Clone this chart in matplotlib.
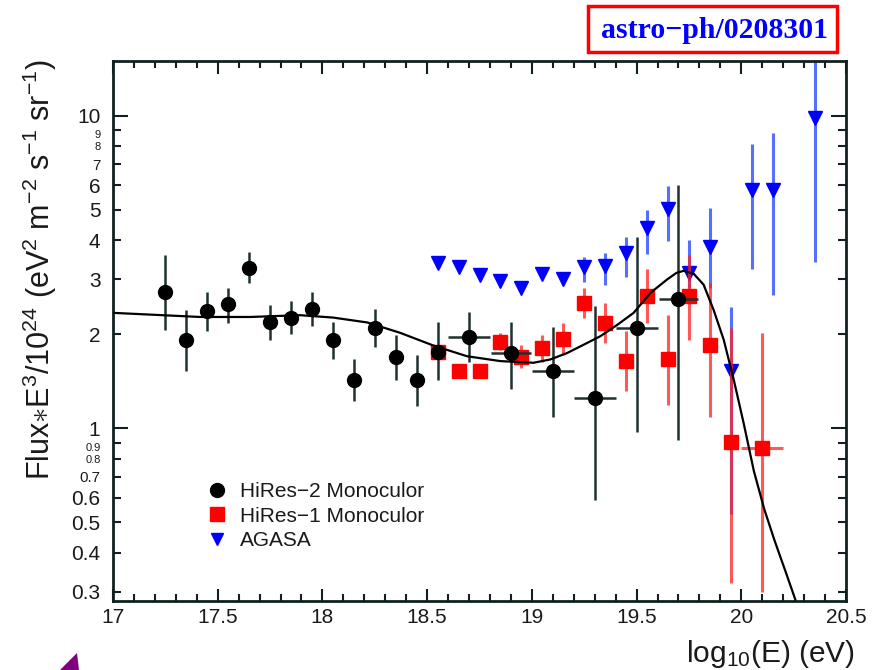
import numpy as np
import matplotlib
matplotlib.use("Agg")
import matplotlib.pyplot as plt
from matplotlib.ticker import FixedLocator, FixedFormatter, MultipleLocator
from matplotlib.patches import Polygon, Rectangle
from matplotlib.lines import Line2D

plt.rcParams['font.family'] = ['Liberation Sans', 'DejaVu Sans']
plt.rcParams['mathtext.fontset'] = 'custom'
plt.rcParams['mathtext.rm'] = 'Liberation Sans'
plt.rcParams['mathtext.it'] = 'Liberation Sans:italic'

# ---------------- data ----------------
# HiRes-2 Monocular (black circles)
hr2_x = [17.25, 17.35, 17.45, 17.55, 17.65, 17.75, 17.85, 17.95, 18.05, 18.15,
         18.25, 18.35, 18.45, 18.55, 18.70, 18.90, 19.10, 19.30, 19.50, 19.70]
hr2_y = [2.73, 1.92, 2.38, 2.49, 3.26, 2.18, 2.26, 2.41, 1.91, 1.43,
         2.10, 1.69, 1.43, 1.76, 1.96, 1.74, 1.52, 1.25, 2.10, 2.60]
hr2_up = [3.58, 2.39, 2.72, 2.80, 3.67, 2.48, 2.55, 2.72, 2.19, 1.67,
          2.41, 1.99, 1.71, 2.18, 2.35, 2.19, 2.11, 2.46, 4.08, 6.00]
hr2_lo = [2.06, 1.53, 2.04, 2.17, 2.91, 1.92, 2.00, 2.12, 1.67, 1.22,
          1.82, 1.43, 1.18, 1.43, 1.63, 1.34, 1.09, 0.59, 0.97, 0.915]
hr2_xerr = [0, 0, 0, 0, 0, 0, 0, 0, 0, 0,
            0, 0, 0, 0, 0.1, 0.095, 0.1, 0.1, 0.1, 0.095]

# HiRes-1 Monocular (red squares)
hr1_x = [18.55, 18.65, 18.75, 18.85, 18.95, 19.05, 19.15, 19.25, 19.35, 19.45,
         19.55, 19.65, 19.75, 19.85, 19.95, 20.10]
hr1_y = [1.75, 1.52, 1.52, 1.89, 1.69, 1.80, 1.93, 2.52, 2.17, 1.64,
         2.64, 1.66, 2.64, 1.84, 0.904, 0.867]
hr1_up = [1.82, 1.58, 1.58, 2.02, 1.85, 1.99, 2.17, 2.80, 2.51, 2.04,
          3.23, 2.30, 3.58, 2.91, 2.09, 2.01]
hr1_lo = [1.68, 1.46, 1.46, 1.78, 1.56, 1.63, 1.71, 2.25, 1.87, 1.32,
          2.17, 1.19, 1.91, 1.09, 0.32, 0.30]
hr1_xerr = [0, 0, 0, 0, 0, 0, 0, 0, 0, 0,
            0, 0, 0, 0, 0, 0.1]

# AGASA (blue down triangles)
ag_x = [18.55, 18.65, 18.75, 18.85, 18.95, 19.05, 19.15, 19.25, 19.35, 19.45,
        19.55, 19.65, 19.75, 19.85, 19.95, 20.05, 20.15, 20.35]
ag_y = [3.39, 3.29, 3.09, 2.96, 2.80, 3.11, 3.00, 3.27, 3.31, 3.65,
        4.37, 5.02, 3.13, 3.81, 1.53, 5.79, 5.79, 9.83]
ag_up = [3.39, 3.29, 3.09, 2.96, 2.80, 3.11, 3.12, 3.53, 3.63, 4.08,
         5.01, 5.94, 4.00, 5.06, 2.45, 8.13, 8.80, 20.0]
ag_lo = [3.39, 3.29, 3.09, 2.96, 2.80, 3.11, 2.88, 2.94, 2.87, 3.05,
         3.61, 3.98, 2.80, 2.80, 0.53, 3.23, 2.67, 3.41]

# fit curve
fit_x = [17.0, 17.416, 17.655, 17.893, 18.051, 18.214, 18.371, 18.529, 18.690,
         18.849, 19.008, 19.088, 19.168, 19.247, 19.327, 19.407, 19.486, 19.566,
         19.645, 19.690, 19.725, 19.773, 19.820, 19.868, 19.916, 19.964, 20.011,
         20.060, 20.110, 20.160, 20.210, 20.258]
fit_y = [2.34, 2.27, 2.27, 2.30, 2.26, 2.18, 2.02, 1.84, 1.70,
         1.64, 1.62, 1.66, 1.74, 1.85, 1.97, 2.14, 2.34, 2.71,
         2.99, 3.14, 3.19, 3.12, 2.88, 2.39, 1.92, 1.43, 1.04,
         0.73, 0.55, 0.435, 0.35, 0.283]

labels = ["HiRes\u22122 Monoculor", "HiRes\u22121 Monoculor", "AGASA"]
ytick_vals = [0.3, 0.4, 0.5, 0.6, 0.7, 0.8, 0.9, 1, 2, 3, 4, 5, 6, 7, 8, 9, 10]
ytick_labels = ["0.3", "0.4", "0.5", "0.6", "0.7", "0.8", "0.9", "1",
                "2", "3", "4", "5", "6", "7", "8", "9", "10"]
xtick_vals = [17, 17.5, 18, 18.5, 19, 19.5, 20, 20.5]
xtick_labels = ["17", "17.5", "18", "18.5", "19", "19.5", "20", "20.5"]

# ---------------- figure ----------------
W, H = 874, 670
fig = plt.figure(figsize=(W / 100, H / 100), dpi=100)
ax = fig.add_axes([113 / W, 1 - 601 / H, (846 - 113) / W, (601 - 60.7) / H])
ax.set_yscale('log')
ax.set_xlim(17, 20.5)
ax.set_ylim(0.28, 15.0)

black_bar = '#1e3030'
red = '#ff0000'
blue = '#0000ff'
txt = '#1a1a1a'


def yerr(y, up, lo):
    y = np.array(y); up = np.array(up); lo = np.array(lo)
    return [y - lo, up - y]


# AGASA
ax.errorbar(ag_x, ag_y, yerr=yerr(ag_y, ag_up, ag_lo), fmt='none',
            ecolor='#2a4cff', elinewidth=2.2, alpha=0.8, zorder=2)
ax.plot(ag_x, ag_y, linestyle='none', marker='v', color=blue,
        markersize=10, zorder=3)

# HiRes-1
ax.errorbar(hr1_x, hr1_y, yerr=yerr(hr1_y, hr1_up, hr1_lo), xerr=hr1_xerr,
            fmt='none', ecolor='#ff2020', elinewidth=2.2, alpha=0.75, zorder=4)
ax.plot(hr1_x, hr1_y, linestyle='none', marker='s', color=red,
        markersize=10, zorder=5)

# HiRes-2
ax.errorbar(hr2_x, hr2_y, yerr=yerr(hr2_y, hr2_up, hr2_lo), xerr=hr2_xerr,
            fmt='none', ecolor=black_bar, elinewidth=1.8, zorder=6)
ax.plot(hr2_x, hr2_y, linestyle='none', marker='o', color='black',
        markersize=10, zorder=7)

# fit curve
ax.plot(fit_x, fit_y, color='black', linewidth=1.6, zorder=8)

# ---------------- axes styling ----------------
for s in ax.spines.values():
    s.set_linewidth(2.0)
    s.set_color('#102020')

ax.xaxis.set_minor_locator(MultipleLocator(0.1))
ax.set_xticks(xtick_vals)
ax.set_xticklabels(xtick_labels)

ax.yaxis.set_major_locator(FixedLocator([1, 10]))
ax.yaxis.set_major_formatter(FixedFormatter(["1", "10"]))
minor_vals = [v for v in ytick_vals if v not in (1, 10)]
minor_labs = [l for v, l in zip(ytick_vals, ytick_labels) if v not in (1, 10)]
ax.yaxis.set_minor_locator(FixedLocator(minor_vals))
ax.yaxis.set_minor_formatter(FixedFormatter(minor_labs))

ax.tick_params(axis='both', which='both', direction='in', top=True, right=True,
               colors='#102020', labelcolor=txt, width=1.5)
ax.tick_params(axis='x', which='major', length=9, labelsize=15, pad=5)
ax.tick_params(axis='x', which='minor', length=5)
ax.tick_params(axis='y', which='major', length=11, labelsize=15, pad=9)
ax.tick_params(axis='y', which='minor', length=6, labelsize=15, pad=9)

# crowded labels near 1 and 10 are squeezed, as in the original
small = {"9": 8, "8": 8, "7": 11, "0.9": 8, "0.8": 8, "0.7": 11}
for t in ax.get_yticklabels(minor=True):
    s = t.get_text()
    if s in small:
        t.set_fontsize(small[s])
    if s in ("9", "0.9"):
        t.set_verticalalignment('top')

# ---------------- labels ----------------
fig.text(40 / W, 1 - 270 / H,
         r'Flux$\ast$E$^{3}$/10$^{24}$ (eV$^{2}$ m$^{-2}$ s$^{-1}$ sr$^{-1}$)',
         rotation=90, ha='center', va='center', fontsize=22, color=txt)
fig.text(855 / W, 1 - 654 / H, r'log$_{10}$(E) (eV)', ha='right', va='center',
         fontsize=21.5, color=txt)

# arXiv tag
fig.patches.append(Rectangle((588 / W, 1 - 52 / H), (837 - 588) / W, (52 - 6) / H,
                             transform=fig.transFigure, fill=False,
                             edgecolor='#ff0000', linewidth=2.5))
fig.text(715 / W, 1 - 30 / H, 'astro\u2212ph/0208301', ha='center', va='center',
         fontsize=21.5, fontweight='bold', color='#0000ff',
         family=['Liberation Serif', 'DejaVu Serif'])

# purple arrow fragment
fig.patches.append(Polygon([(60 / W, 0), (77 / W, 1 - 653 / H), (79 / W, 0)],
                           closed=True, transform=fig.transFigure,
                           facecolor='#800080', edgecolor='none'))

# legend
handles = [Line2D([], [], linestyle='none', marker='o', color='black', markersize=10),
           Line2D([], [], linestyle='none', marker='s', color=red, markersize=10),
           Line2D([], [], linestyle='none', marker='v', color=blue, markersize=9)]
leg = fig.legend(handles, labels, loc='upper left',
                 bbox_to_anchor=(207 / W, 1 - 482 / H), frameon=False,
                 fontsize=15, handletextpad=0.6, labelspacing=0.27,
                 handlelength=1.0, borderaxespad=0, borderpad=0)
for t in leg.get_texts():
    t.set_color(txt)

fig.savefig('out.png', dpi=100)
